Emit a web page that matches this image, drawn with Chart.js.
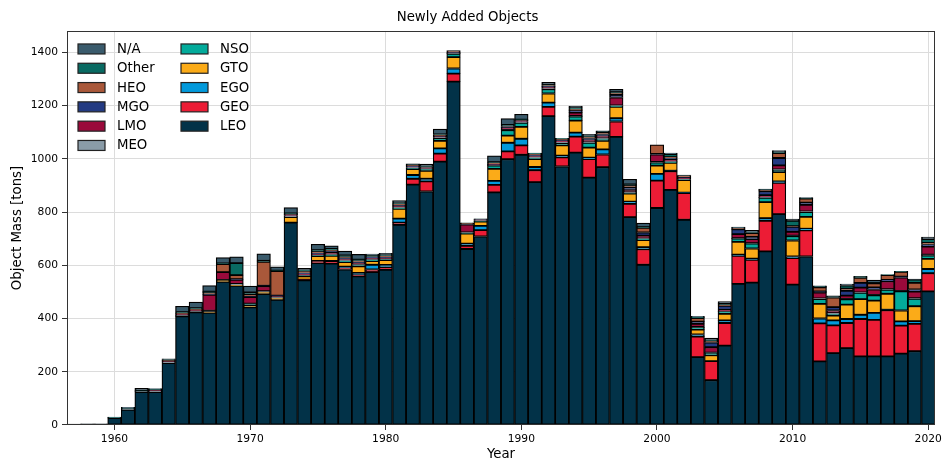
<!DOCTYPE html>
<html>
<head>
<meta charset="utf-8">
<title>Newly Added Objects</title>
<script src="https://cdn.jsdelivr.net/npm/chart.js@4/dist/chart.umd.min.js"></script>
<style>
  html, body { margin: 0; padding: 0; background: #fff; }
  #wrap { width: 945px; height: 464px; }
</style>
</head>
<body>
<div id="wrap"><canvas id="massChart" width="945" height="464"></canvas></div>
<script>
// Newly added objects — mass per orbit class and launch year (tons)

const years = [1957, 1958, 1959,
  1960, 1961, 1962, 1963, 1964, 1965, 1966, 1967, 1968, 1969,
  1970, 1971, 1972, 1973, 1974, 1975, 1976, 1977, 1978, 1979,
  1980, 1981, 1982, 1983, 1984, 1985, 1986, 1987, 1988, 1989,
  1990, 1991, 1992, 1993, 1994, 1995, 1996, 1997, 1998, 1999,
  2000, 2001, 2002, 2003, 2004, 2005, 2006, 2007, 2008, 2009,
  2010, 2011, 2012, 2013, 2014, 2015, 2016, 2017, 2018, 2019,
  2020];

const xTicks = [1960, 1970, 1980, 1990, 2000, 2010, 2020];
const yTicks = [0, 200, 400, 600, 800, 1000, 1200, 1400];

// one value per year, 1957 .. 2020
const leo = [2, 3, 3,
  26, 57, 124, 124, 233, 408, 423, 421, 538, 523,
  442, 492, 470, 760, 543, 608, 606, 584, 558, 574,
  583, 752, 903, 877, 989, 1290, 661, 708, 874, 998,
  1015, 912, 1160, 971, 1023, 929, 968, 1082, 781, 602,
  815, 883, 771, 255, 168, 298, 530, 535, 652, 792,
  527, 633, 239, 270, 289, 258, 258, 258, 268, 277,
  502];
const geo = [0, 0, 0,
  0, 0, 0, 0, 0, 0, 0, 0, 0, 0,
  0, 0, 0, 0, 3, 8, 10, 6, 5, 10,
  10, 8, 22, 38, 30, 30, 12, 24, 28, 30,
  35, 45, 35, 34, 60, 70, 48, 58, 50, 58,
  103, 70, 100, 77, 72, 85, 105, 85, 115, 118,
  100, 98, 143, 104, 94, 140, 137, 173, 105, 103,
  68];
const ego = [0, 0, 0,
  0, 0, 0, 0, 0, 0, 0, 0, 0, 0,
  0, 0, 0, 0, 0, 0, 0, 5, 8, 18,
  8, 15, 14, 10, 20, 19, 8, 16, 15, 32,
  25, 12, 16, 7, 15, 5, 19, 12, 8, 8,
  25, 2, 2, 8, 0, 10, 5, 5, 10, 5,
  6, 6, 18, 19, 15, 16, 26, 2, 16, 10,
  16];
const gto = [0, 0, 0,
  0, 0, 0, 0, 0, 0, 0, 5, 5, 3,
  8, 8, 8, 21, 12, 18, 19, 17, 25, 14,
  18, 37, 22, 30, 28, 43, 38, 16, 45, 27,
  45, 30, 34, 38, 45, 38, 32, 43, 30, 27,
  31, 30, 47, 18, 22, 25, 48, 38, 60, 35,
  60, 45, 55, 18, 54, 59, 46, 60, 41, 56,
  38];
const nso = [0, 0, 0,
  0, 0, 0, 0, 0, 0, 0, 0, 0, 0,
  2, 0, 0, 0, 3, 2, 2, 3, 3, 3,
  2, 3, 3, 6, 10, 12, 2, 2, 12, 20,
  15, 4, 16, 9, 15, 18, 8, 3, 3, 3,
  12, 3, 2, 8, 8, 8, 12, 18, 16, 8,
  16, 18, 18, 6, 20, 23, 20, 15, 72, 28,
  12];
const meo = [0, 0, 0,
  1, 2, 2, 3, 4, 4, 4, 3, 2, 4,
  4, 3, 3, 3, 2, 3, 4, 4, 4, 3,
  3, 4, 3, 2, 3, 2, 2, 2, 2, 2,
  2, 3, 3, 3, 3, 3, 3, 2, 3, 3,
  2, 3, 2, 2, 2, 2, 2, 2, 2, 2,
  2, 2, 2, 3, 2, 2, 2, 2, 2, 2,
  4];
const lmo = [0, 0, 0,
  0, 2, 0, 3, 3, 4, 4, 60, 29, 15,
  24, 18, 3, 3, 4, 4, 8, 5, 5, 5,
  4, 4, 3, 2, 3, 2, 30, 2, 2, 8,
  3, 5, 5, 5, 12, 8, 8, 30, 8, 10,
  28, 6, 3, 12, 20, 5, 15, 15, 8, 15,
  15, 25, 22, 10, 12, 18, 20, 30, 50, 25,
  30];
const mgo = [0, 0, 0,
  0, 0, 0, 0, 0, 0, 0, 2, 0, 3,
  2, 2, 2, 3, 3, 3, 3, 4, 3, 3,
  3, 3, 3, 1, 3, 2, 2, 2, 2, 4,
  3, 4, 3, 3, 8, 5, 5, 10, 8, 12,
  2, 6, 2, 8, 18, 15, 18, 8, 15, 28,
  18, 8, 5, 13, 18, 18, 8, 5, 3, 8,
  8];
const heo = [0, 0, 0,
  0, 0, 0, 0, 2, 3, 3, 6, 30, 15,
  10, 90, 92, 2, 8, 5, 4, 4, 6, 2,
  3, 3, 2, 4, 2, 6, 2, 1, 5, 2,
  2, 3, 3, 3, 5, 6, 8, 8, 8, 18,
  34, 3, 8, 14, 4, 3, 4, 15, 3, 18,
  3, 15, 15, 36, 8, 19, 15, 18, 18, 25,
  6];
const other = [0, 0, 0,
  2, 3, 3, 4, 4, 5, 5, 4, 3, 45,
  6, 4, 2, 3, 4, 6, 5, 5, 4, 4,
  5, 4, 3, 1, 3, 0, 2, 1, 2, 4,
  2, 3, 3, 4, 5, 3, 3, 2, 5, 2,
  0, 12, 2, 2, 4, 5, 2, 2, 3, 5,
  20, 2, 3, 3, 12, 5, 2, 2, 2, 12,
  14];
const na = [1, 1, 1,
  1, 2, 9, 3, 3, 22, 23, 23, 22, 24,
  24, 26, 14, 22, 6, 22, 12, 16, 20, 6,
  6, 10, 3, 9, 20, 0, 0, 0, 24, 24,
  20, 0, 9, 0, 7, 7, 3, 11, 19, 15,
  0, 3, 0, 4, 8, 8, 2, 8, 2, 5,
  6, 2, 3, 3, 5, 0, 10, 0, 0, 2,
  8];

// stack order, bottom first
const series = [
  ['LEO', leo], ['GEO', geo], ['EGO', ego], ['GTO', gto], ['NSO', nso], ['MEO', meo],
  ['LMO', lmo], ['MGO', mgo], ['HEO', heo], ['Other', other], ['N/A', na]
];

const colors = {
  'LEO': '#023248', 'GEO': '#ec1c35', 'EGO': '#0299db', 'GTO': '#fbab18',
  'NSO': '#03ab9b', 'MEO': '#8a9ca8', 'LMO': '#9a0a3b', 'MGO': '#233a82',
  'HEO': '#a9583a', 'Other': '#096a62', 'N/A': '#3a5b6c'
};

// legend is laid out column by column, like the original
const legendCols = [
  ['N/A', 'Other', 'HEO', 'MGO', 'LMO', 'MEO'],
  ['NSO', 'GTO', 'EGO', 'GEO', 'LEO']
];

const FONT = '"DejaVu Sans", sans-serif';

// ── Plugins ──

const frameBox = {
  id: 'frameBox',
  afterDatasetsDraw(chart) {
    const { ctx, chartArea: a } = chart;
    ctx.save();
    ctx.strokeStyle = '#333';
    ctx.lineWidth = 1;
    const l = Math.round(a.left) + 0.5, t = Math.round(a.top) + 0.5;
    const r = Math.round(a.right) - 0.5, b = Math.round(a.bottom) - 0.5;
    ctx.strokeRect(l, t, r - l, b - t);
    ctx.restore();
  }
};

const columnLegend = {
  id: 'columnLegend',
  afterDraw(chart) {
    const { ctx, chartArea: a } = chart;
    ctx.save();
    ctx.font = '13.3px ' + FONT;
    ctx.textBaseline = 'middle';
    legendCols.forEach((col, c) => {
      const x = a.left + 11 + c * 103;
      col.forEach((name, r) => {
        const y = a.top + 13 + r * 19.3;
        ctx.fillStyle = colors[name];
        ctx.fillRect(x, y, 27, 10);
        ctx.strokeStyle = '#222';
        ctx.lineWidth = 1.2;
        ctx.strokeRect(x, y, 27, 10);
        ctx.fillStyle = '#000';
        ctx.fillText(name, x + 39, y + 5.5);
      });
    });
    ctx.restore();
  }
};

// ── Chart ──

const datasets = series.map(([name, values]) => ({
  label: name,
  data: years.map((yr, i) => ({ x: yr, y: values[i] })),
  backgroundColor: colors[name],
  borderColor: '#000',
  borderWidth: 1.25,
  borderSkipped: false,
  barPercentage: 1,
  categoryPercentage: 1
}));

new Chart(document.getElementById('massChart').getContext('2d'), {
  type: 'bar',
  data: { datasets },
  options: {
    responsive: false,
    animation: false,
    devicePixelRatio: 1,
    layout: { padding: { left: 0, right: 10, top: 0, bottom: 0 } },
    plugins: {
      legend: { display: false },
      tooltip: { enabled: false },
      title: {
        display: true,
        text: 'Newly Added Objects',
        color: '#000',
        font: { family: FONT, size: 13.3, weight: 'normal' },
        padding: { top: 10, bottom: 5 }
      }
    },
    scales: {
      x: {
        type: 'linear',
        stacked: true,
        offset: false,
        min: 1956.5,
        max: 2020.5,
        afterFit: s => { s.height = 39; },
        afterBuildTicks: s => { s.ticks = xTicks.map(v => ({ value: v })); },
        grid: { color: '#dcdcdc', lineWidth: 1, offset: false, tickLength: 5, tickColor: '#333', tickWidth: 1 },
        border: { display: false },
        ticks: { color: '#000', font: { family: FONT, size: 10.7 }, padding: 3, maxRotation: 0, autoSkip: false, callback: v => String(v) },
        title: { display: true, text: 'Year', color: '#000', font: { family: FONT, size: 13.3 }, padding: { top: 0, bottom: 1 } }
      },
      y: {
        stacked: true,
        min: 0,
        max: 1480,
        afterFit: s => { s.width = 67; },
        afterBuildTicks: s => { s.ticks = yTicks.map(v => ({ value: v })); },
        grid: { color: '#dcdcdc', lineWidth: 1, tickLength: 5, tickColor: '#333', tickWidth: 1 },
        border: { display: false },
        ticks: { color: '#000', font: { family: FONT, size: 10.7 }, padding: 4, callback: v => String(v) },
        title: { display: true, text: 'Object Mass [tons]', color: '#000', font: { family: FONT, size: 13.3 }, padding: { top: 10, bottom: 0 } }
      }
    }
  },
  plugins: [frameBox, columnLegend]
});
</script>
</body>
</html>
